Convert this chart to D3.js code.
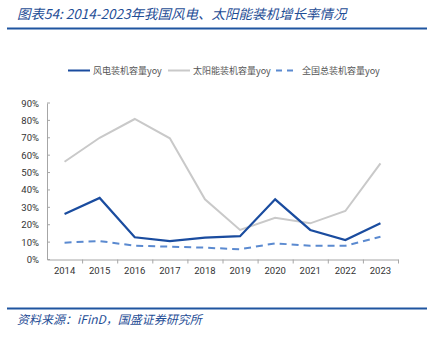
<!DOCTYPE html>
<html><head><meta charset="utf-8">
<script src="https://cdn.jsdelivr.net/npm/d3@7"></script>
<style>body{margin:0;background:#fff}svg{display:block}</style>
</head><body>
<script>
const years = ["2014","2015","2016","2017","2018","2019","2020","2021","2022","2023"];
const windYoy = [26.2,35.4,12.8,10.6,12.6,13.4,34.6,17.0,11.2,20.8];
const solarYoy = [56.2,70.0,80.8,69.7,34.6,17.0,24.0,20.8,27.9,55.3];
const totalYoy = [9.7,10.6,7.9,7.4,6.8,5.9,9.3,7.9,7.9,13.1];
const yTicks = [0,10,20,30,40,50,60,70,80,90];
const seriesNames = ["风电装机容量yoy","太阳能装机容量yoy","全国总装机容量yoy"];

const W=436,H=342;
const svg=d3.select("body").append("svg").attr("width",W).attr("height",H);
const cjk="'Noto Sans CJK SC','Noto Sans',sans-serif";

svg.append("text").attr("x",17).attr("y",19).attr("fill","#1f4e96")
  .attr("font-family",cjk).attr("font-style","italic").attr("font-size",13.5)
  .text("图表54:  2014-2023年我国风电、太阳能装机增长率情况");
svg.append("line").attr("x1",7).attr("x2",427).attr("y1",28.5).attr("y2",28.5)
  .attr("stroke","#1f55a0").attr("stroke-width",2);
svg.append("line").attr("x1",7).attr("x2",427).attr("y1",308.5).attr("y2",308.5)
  .attr("stroke","#1f55a0").attr("stroke-width",2);
svg.append("text").attr("x",17).attr("y",324).attr("fill","#1f4e96")
  .attr("font-family",cjk).attr("font-style","italic").attr("font-size",12)
  .text("资料来源：iFinD，国盛证券研究所");

const x=d3.scalePoint().domain(years).range([47,398]).padding(0.5);
const xb=d3.scaleBand().domain(years).range([47,398]);
const y=d3.scaleLinear().domain([0,90]).range([259.5,103]);

const gx=svg.append("g").attr("transform","translate(0,259.5)")
  .call(d3.axisBottom(xb).tickSize(0).tickFormat(d=>d));
gx.select(".domain").attr("stroke","#a6a6a6");
gx.selectAll("text").attr("font-family","Roboto,'Liberation Sans',sans-serif").attr("font-size",9.5).attr("fill","#333").attr("dy","1.25em");
gx.selectAll(".tk").data(years.slice(1).concat(["end"])).enter().append("line")
  .attr("x1",(d,i)=>xb(years[0])+xb.step()*(i+1)+0.5).attr("x2",(d,i)=>xb(years[0])+xb.step()*(i+1)+0.5)
  .attr("y1",0).attr("y2",4).attr("stroke","#a6a6a6");

const gy=svg.append("g").attr("transform","translate(47,0)")
  .call(d3.axisLeft(y).tickValues(yTicks).tickSize(0).tickPadding(8).tickFormat(d=>d+"%"));
gy.select(".domain").attr("stroke","#a6a6a6");
gy.selectAll("text").attr("font-family","Roboto,'Liberation Sans',sans-serif").attr("font-size",9.5).attr("fill","#333");
gy.selectAll(".tky").data(yTicks).enter().append("line")
  .attr("x1",0).attr("x2",3).attr("y1",d=>y(d)).attr("y2",d=>y(d)).attr("stroke","#a6a6a6");

const line=d3.line().x((d,i)=>x(years[i])).y(d=>y(d));
svg.append("path").datum(solarYoy).attr("d",line).attr("fill","none").attr("stroke","#c9c9c9").attr("stroke-width",2);
svg.append("path").datum(windYoy).attr("d",line).attr("fill","none").attr("stroke","#1a4c9f").attr("stroke-width",2.2);
svg.append("path").datum(totalYoy).attr("d",line).attr("fill","none").attr("stroke","#5b8ad0").attr("stroke-width",2).attr("stroke-dasharray","7,5");

const leg=[{x:68,c:"#1a4c9f",d:null},{x:168,c:"#c9c9c9",d:null},{x:276,c:"#5b8ad0",d:"6,5"}];
leg.forEach((l,i)=>{
  svg.append("line").attr("x1",l.x).attr("x2",l.x+22).attr("y1",70.5).attr("y2",70.5)
    .attr("stroke",l.c).attr("stroke-width",2).attr("stroke-dasharray",l.d);
  svg.append("text").attr("x",i==2?l.x+26:l.x+25).attr("y",74).attr("font-family",cjk)
    .attr("font-size",9).attr("fill","#555").text(seriesNames[i]);
});
</script>
</body></html>
